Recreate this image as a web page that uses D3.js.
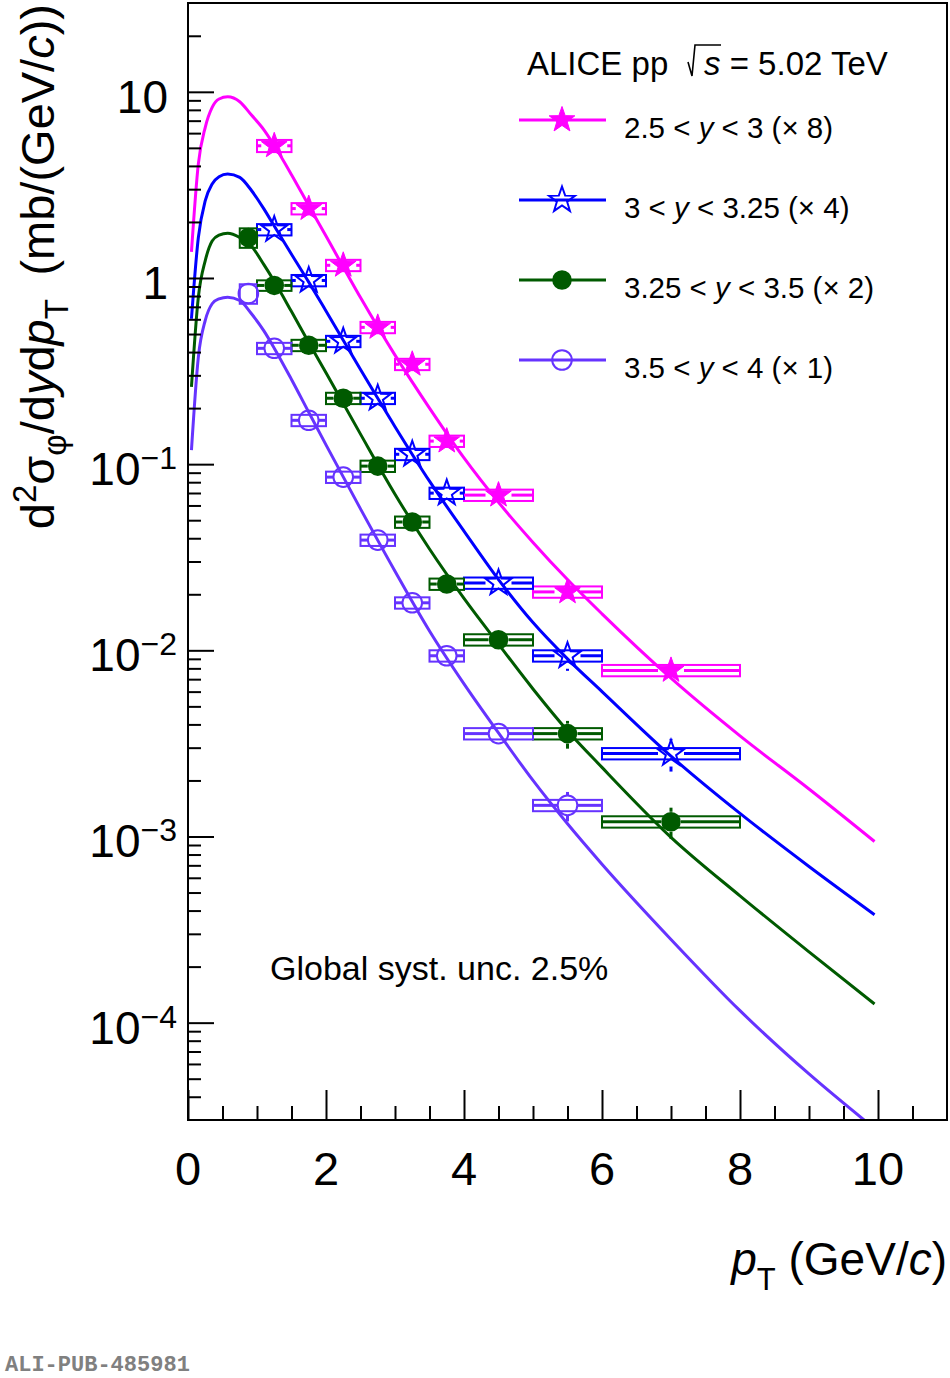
<!DOCTYPE html>
<html><head><meta charset="utf-8">
<script src="https://cdnjs.cloudflare.com/ajax/libs/d3/7.8.5/d3.min.js"></script>
<style>
body{margin:0;background:#fff}
text{font-family:"Liberation Sans",Arial,Helvetica,sans-serif;fill:#000}
</style>
</head><body>
<svg id="c" width="950" height="1378" xmlns="http://www.w3.org/2000/svg"></svg>
<script>
// ---------------- data ----------------
const binLo    = [0.75, 1.0, 1.5, 2.0, 2.5, 3.0, 3.5, 4.0, 5.0, 6.0];
const binHi    = [1.0, 1.5, 2.0, 2.5, 3.0, 3.5, 4.0, 5.0, 6.0, 8.0];
const ptCenter = [0.875, 1.25, 1.75, 2.25, 2.75, 3.25, 3.75, 4.5, 5.5, 7.0];

// 2.5<y<3 (x8)
const valY1  = [null, 5.13, 2.36, 1.17, 0.543, 0.344, 0.133, 0.0682, 0.0206, 0.0078];
const statY1 = [null, 0.02, 0.02, 0.02, 0.03, 0.03, 0.04, 0.05, 0.06, 0.10];
const systY1 = [null, 0.075, 0.07, 0.07, 0.07, 0.07, 0.07, 0.07, 0.07, 0.07];
// 3<y<3.25 (x4)
const valY2  = [null, 1.82, 0.97, 0.457, 0.226, 0.113, 0.0699, 0.0230, 0.00935, 0.00279];
const statY2 = [null, 0.03, 0.03, 0.03, 0.04, 0.05, 0.05, 0.07, 0.17, 0.20];
const systY2 = [null, 0.07, 0.07, 0.07, 0.07, 0.07, 0.07, 0.07, 0.07, 0.07];
// 3.25<y<3.5 (x2)
const valY3  = [1.65, 0.912, 0.435, 0.226, 0.0976, 0.0489, 0.0227, 0.0114, 0.00357, 0.00120];
const statY3 = [0.03, 0.03, 0.03, 0.03, 0.04, 0.05, 0.06, 0.08, 0.17, 0.19];
const systY3 = [0.12, 0.065, 0.07, 0.07, 0.07, 0.07, 0.07, 0.07, 0.07, 0.07];
// 3.5<y<4 (x1)
const valY4  = [0.826, 0.419, 0.172, 0.0852, 0.0391, 0.0180, 0.00935, 0.00357, 0.00147, null];
const statY4 = [0.03, 0.03, 0.03, 0.04, 0.05, 0.06, 0.07, 0.08, 0.18, null];
const systY4 = [0.12, 0.07, 0.07, 0.07, 0.07, 0.07, 0.07, 0.07, 0.07, null];

// fitted curves
const curvePt = [0.05, 0.15, 0.25, 0.35, 0.45, 0.575, 0.75, 0.92, 1.1, 1.25, 1.5, 1.75, 2.0, 2.5, 3.0, 3.5, 4.0, 4.5, 5.0, 5.5, 6.0, 7.0, 8.0, 9.0, 9.95];
const curveY1 = [1.38, 4.1, 6.45, 8.25, 9.15, 9.4, 8.85, 7.5, 6.25, 5.15, 3.59, 2.45, 1.68, 0.785, 0.385, 0.2, 0.108, 0.0624, 0.038, 0.024, 0.0157, 0.00708, 0.00347, 0.0018, 0.00094];
const curveY2 = [0.604, 1.65, 2.6, 3.2, 3.5, 3.62, 3.47, 2.95, 2.35, 1.9, 1.34, 0.95, 0.665, 0.322, 0.159, 0.081, 0.0437, 0.024, 0.0141, 0.009, 0.006, 0.0027, 0.00133, 0.00069, 0.00038];
const curveY3 = [0.26, 0.79, 1.24, 1.58, 1.70, 1.74, 1.65, 1.48, 1.18, 0.96, 0.66, 0.45, 0.31, 0.145, 0.069, 0.035, 0.019, 0.0108, 0.0062, 0.0037, 0.00235, 0.00099, 0.00048, 0.00024, 0.000126];
const curveY4 = [0.119, 0.376, 0.592, 0.727, 0.773, 0.789, 0.757, 0.643, 0.52, 0.42, 0.285, 0.19, 0.127, 0.0575, 0.0266, 0.0127, 0.0066, 0.0036, 0.0020, 0.00117, 0.00071, 0.00028, 0.000116, 0.000053, 0.000027];

const xTickValues = [0, 2, 4, 6, 8, 10];
const xTickLabels = ["0", "2", "4", "6", "8", "10"];
const yTickValues = [10, 1, 0.1, 0.01, 0.001, 0.0001];
const yTickBase   = ["10", "1", "10", "10", "10", "10"];
const yTickExp    = ["", "", "\u22121", "\u22122", "\u22123", "\u22124"];

const legendPre  = ["2.5 < ", "3 < ", "3.25 < ", "3.5 < "];
const legendPost = [" < 3 (\u00d7 8)", " < 3.25 (\u00d7 4)", " < 3.5 (\u00d7 2)", " < 4 (\u00d7 1)"];

// ---------------- setup ----------------
const svg = d3.select("#c");
svg.append("rect").attr("width", 950).attr("height", 1378).attr("fill", "#fff");

const L = 188, R = 947, T = 3, B = 1120;
const x = d3.scaleLinear().domain([0, 11]).range([L, R]);
const y = d3.scaleLog().domain([3e-5, 30]).range([B, T]);

const series = [
  {vals: valY1, stat: statY1, syst: systY1, curve: curveY1, color: "#ff00ff", marker: "starFilled"},
  {vals: valY2, stat: statY2, syst: systY2, curve: curveY2, color: "#0000ff", marker: "starOpen"},
  {vals: valY3, stat: statY3, syst: systY3, curve: curveY3, color: "#005a00", marker: "circleFilled"},
  {vals: valY4, stat: statY4, syst: systY4, curve: curveY4, color: "#6633ff", marker: "circleOpen"}
];

function starPath(Ro, Ri) {
  const pts = [];
  for (let i = 0; i < 10; i++) {
    const a = -Math.PI / 2 + i * Math.PI / 5;
    const r = i % 2 === 0 ? Ro : Ri;
    pts.push([(r * Math.cos(a)).toFixed(2), (r * Math.sin(a)).toFixed(2)]);
  }
  return "M" + pts.map(p => p.join(",")).join("L") + "Z";
}
const STAR = starPath(13.5, 5.4);

function drawMarker(g, type, cx, cy, color) {
  if (type === "starFilled") {
    g.append("path").attr("d", STAR).attr("transform", `translate(${cx},${cy})`)
      .attr("fill", color).attr("stroke", color).attr("stroke-width", 1);
  } else if (type === "starOpen") {
    g.append("path").attr("d", STAR).attr("transform", `translate(${cx},${cy})`)
      .attr("fill", "none").attr("stroke", color).attr("stroke-width", 2);
  } else if (type === "circleFilled") {
    g.append("circle").attr("cx", cx).attr("cy", cy).attr("r", 9.8).attr("fill", color);
  } else {
    g.append("circle").attr("cx", cx).attr("cy", cy).attr("r", 9.8)
      .attr("fill", "none").attr("stroke", color).attr("stroke-width", 2);
  }
}

// clip
svg.append("defs").append("clipPath").attr("id", "plotclip")
  .append("rect").attr("x", L).attr("y", T).attr("width", R - L).attr("height", B - T);

const plot = svg.append("g").attr("clip-path", "url(#plotclip)");

// syst boxes
series.forEach(s => {
  const g = plot.append("g");
  s.vals.forEach((v, i) => {
    if (v == null) return;
    const y0 = y(v * (1 + s.syst[i])), y1 = y(v * (1 - s.syst[i]));
    g.append("rect").attr("x", x(binLo[i])).attr("y", y0)
      .attr("width", x(binHi[i]) - x(binLo[i])).attr("height", y1 - y0)
      .attr("fill", "none").attr("stroke", s.color).attr("stroke-width", 2);
  });
});

// curves
const line = d3.line().x(d => x(d[0])).y(d => y(d[1])).curve(d3.curveMonotoneX);
series.forEach(s => {
  plot.append("path").datum(curvePt.map((p, i) => [p, s.curve[i]]))
    .attr("d", line).attr("fill", "none").attr("stroke", s.color).attr("stroke-width", 3);
});

// error bars + markers
series.forEach(s => {
  const g = plot.append("g");
  const gap = s.marker.startsWith("star") ? 13 : 10;
  s.vals.forEach((v, i) => {
    if (v == null) return;
    const cx = x(ptCenter[i]), cy = y(v);
    const xl = x(binLo[i]), xr = x(binHi[i]);
    if (cx - gap > xl) g.append("line").attr("x1", xl).attr("x2", cx - gap).attr("y1", cy).attr("y2", cy)
      .attr("stroke", s.color).attr("stroke-width", 3);
    if (cx + gap < xr) g.append("line").attr("x1", cx + gap).attr("x2", xr).attr("y1", cy).attr("y2", cy)
      .attr("stroke", s.color).attr("stroke-width", 3);
    const yt = y(v * (1 + s.stat[i])), yb = y(v * (1 - s.stat[i]));
    if (yt < cy - gap) g.append("line").attr("x1", cx).attr("x2", cx).attr("y1", yt).attr("y2", cy - gap)
      .attr("stroke", s.color).attr("stroke-width", 3);
    if (yb > cy + gap) g.append("line").attr("x1", cx).attr("x2", cx).attr("y1", cy + gap).attr("y2", yb)
      .attr("stroke", s.color).attr("stroke-width", 3);
    drawMarker(g, s.marker, cx, cy, s.color);
  });
});

// ---------------- axes ----------------
const minorX = d3.range(1, 22).map(k => k * 0.5).filter(v => Math.abs(v / 2 - Math.round(v / 2)) > 1e-6);
const minorY = [];
for (let k = -5; k <= 1; k++) for (let m = 2; m <= 9; m++) {
  const v = m * Math.pow(10, k);
  if (v > 3.01e-5 && v < 29.9) minorY.push(v);
}

function styleAxis(g) {
  g.select(".domain").remove();
  g.selectAll(".tick line").attr("stroke", "#000").attr("stroke-width", 2);
  g.selectAll(".tick text").remove();
}
svg.append("g").attr("transform", `translate(0,${B})`)
  .call(d3.axisBottom(x).tickValues(xTickValues).tickSize(-30).tickSizeOuter(0)).call(styleAxis);
svg.append("g").attr("transform", `translate(0,${B})`)
  .call(d3.axisBottom(x).tickValues(minorX).tickSize(-14).tickSizeOuter(0)).call(styleAxis);
svg.append("g").attr("transform", `translate(${L},0)`)
  .call(d3.axisLeft(y).tickValues(yTickValues).tickSize(-26).tickSizeOuter(0)).call(styleAxis);
svg.append("g").attr("transform", `translate(${L},0)`)
  .call(d3.axisLeft(y).tickValues(minorY).tickSize(-13).tickSizeOuter(0)).call(styleAxis);

// frame
svg.append("rect").attr("x", L).attr("y", T).attr("width", R - L).attr("height", B - T)
  .attr("fill", "none").attr("stroke", "#000").attr("stroke-width", 2);

// x tick labels
xTickValues.forEach((v, i) => {
  svg.append("text").attr("x", x(v)).attr("y", 1185).attr("text-anchor", "middle")
    .attr("font-size", 47).text(xTickLabels[i]);
});
// y tick labels
yTickValues.forEach((v, i) => {
  const ty = y(v);
  if (!yTickExp[i]) {
    svg.append("text").attr("x", 168).attr("y", ty + 21).attr("text-anchor", "end")
      .attr("font-size", 46).text(yTickBase[i]);
  } else {
    const t = svg.append("text").attr("x", 177).attr("y", ty + 21).attr("text-anchor", "end").attr("font-size", 46);
    t.append("tspan").text(yTickBase[i]);
    t.append("tspan").attr("font-size", 32).attr("dy", -16).text(yTickExp[i]);
  }
});

// axis titles
const xt = svg.append("text").attr("x", 947).attr("y", 1275).attr("text-anchor", "end").attr("font-size", 46);
xt.append("tspan").attr("font-style", "italic").text("p");
xt.append("tspan").attr("font-size", 31).attr("dy", 15).text("T");
xt.append("tspan").attr("dy", -15).text(" (GeV/");
xt.append("tspan").attr("font-style", "italic").text("c");
xt.append("tspan").text(")");

const yt = svg.append("text").attr("transform", "translate(54,4) rotate(-90)")
  .attr("text-anchor", "end").attr("font-size", 47);
yt.append("tspan").text("d");
yt.append("tspan").attr("font-size", 33).attr("dy", -18).text("2");
yt.append("tspan").attr("dy", 18).text("\u03c3");
yt.append("tspan").attr("font-size", 33).attr("dy", 12).text("\u03c6");
yt.append("tspan").attr("dy", -12).text("/d");
yt.append("tspan").attr("font-style", "italic").text("y");
yt.append("tspan").text("d");
yt.append("tspan").attr("font-style", "italic").text("p");
yt.append("tspan").attr("font-size", 33).attr("dy", 14).text("T");
yt.append("tspan").attr("dy", -14).text("\u2002(mb/(GeV/");
yt.append("tspan").attr("font-style", "italic").text("c");
yt.append("tspan").text("))");

// title
svg.append("text").attr("x", 527).attr("y", 75).attr("font-size", 33).text("ALICE pp");
svg.append("path").attr("d", "M688,62 L692,76 L695,45 L721,45")
  .attr("fill", "none").attr("stroke", "#000").attr("stroke-width", 1.6);
const tt = svg.append("text").attr("x", 704).attr("y", 75).attr("font-size", 33);
tt.append("tspan").attr("font-style", "italic").text("s");
tt.append("tspan").text(" = 5.02 TeV");

// legend
const legRowY = [120, 200, 280, 360];
series.forEach((s, i) => {
  const ly = legRowY[i];
  svg.append("line").attr("x1", 519).attr("x2", 606).attr("y1", ly).attr("y2", ly)
    .attr("stroke", s.color).attr("stroke-width", 3);
  drawMarker(svg, s.marker, 562, ly, s.color);
  const t = svg.append("text").attr("x", 624).attr("y", ly + 18).attr("font-size", 29.5);
  t.append("tspan").text(legendPre[i]);
  t.append("tspan").attr("font-style", "italic").text("y");
  t.append("tspan").text(legendPost[i]);
});

svg.append("text").attr("x", 270).attr("y", 980).attr("font-size", 34).text("Global syst. unc. 2.5%");

svg.append("text").attr("x", 5).attr("y", 1371).attr("font-size", 22)
  .attr("font-weight", "bold").style("font-family", "'Liberation Mono','DejaVu Sans Mono',monospace")
  .attr("fill", "#808080").style("fill", "#808080").text("ALI-PUB-485981");
</script>
</body></html>
